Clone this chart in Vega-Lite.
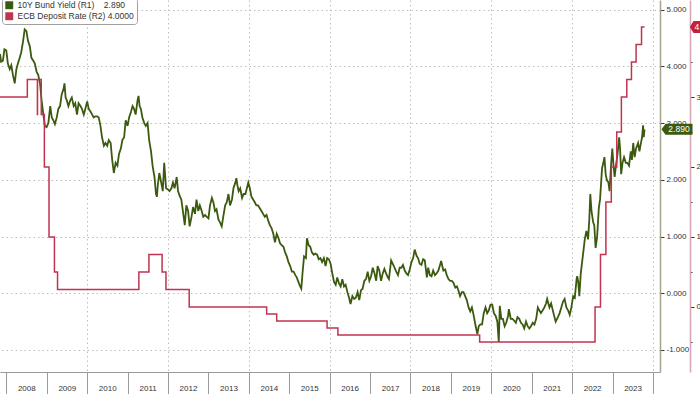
{
  "$schema": "https://vega.github.io/schema/vega-lite/v6.json",
  "width": 660,
  "height": 372,
  "autosize": {"type": "none"},
  "padding": {"left": 0, "top": 0, "right": 40, "bottom": 22},
  "background": "white",
  "config": {
    "view": {"stroke": null},
    "font": "Liberation Sans",
    "axis": {"labelFont": "Liberation Sans", "labelFontSize": 8, "labelColor": "#333333", "title": null}
  },
  "datasets": {
    "bund": [
      {"d":"2007-11-05","y":4.22},{"d":"2007-11-15","y":4.08},{"d":"2007-12-01","y":4.10},{"d":"2007-12-15","y":4.30},
      {"d":"2008-01-01","y":4.28},{"d":"2008-01-15","y":4.05},{"d":"2008-02-01","y":3.95},{"d":"2008-02-15","y":4.02},
      {"d":"2008-03-01","y":3.85},{"d":"2008-03-17","y":3.70},{"d":"2008-04-01","y":3.95},{"d":"2008-04-15","y":4.05},
      {"d":"2008-05-01","y":4.15},{"d":"2008-05-15","y":4.25},{"d":"2008-06-01","y":4.45},{"d":"2008-06-15","y":4.65},
      {"d":"2008-07-01","y":4.62},{"d":"2008-07-15","y":4.45},{"d":"2008-08-01","y":4.35},{"d":"2008-08-15","y":4.15},
      {"d":"2008-09-01","y":4.10},{"d":"2008-09-15","y":4.05},{"d":"2008-10-01","y":3.90},{"d":"2008-10-15","y":3.85},
      {"d":"2008-11-01","y":3.70},{"d":"2008-11-15","y":3.40},{"d":"2008-12-01","y":3.15},{"d":"2008-12-15","y":2.95},
      {"d":"2008-12-30","y":2.93},{"d":"2009-01-15","y":3.00},{"d":"2009-02-01","y":3.30},{"d":"2009-02-15","y":3.10},
      {"d":"2009-03-01","y":3.05},{"d":"2009-03-15","y":2.98},{"d":"2009-04-01","y":3.10},{"d":"2009-04-15","y":3.25},
      {"d":"2009-05-01","y":3.30},{"d":"2009-05-15","y":3.50},{"d":"2009-06-01","y":3.60},{"d":"2009-06-10","y":3.70},
      {"d":"2009-06-20","y":3.45},{"d":"2009-07-01","y":3.40},{"d":"2009-07-15","y":3.30},{"d":"2009-08-01","y":3.40},
      {"d":"2009-08-15","y":3.45},{"d":"2009-09-01","y":3.30},{"d":"2009-09-15","y":3.35},{"d":"2009-10-01","y":3.15},
      {"d":"2009-10-15","y":3.35},{"d":"2009-11-01","y":3.30},{"d":"2009-11-15","y":3.25},{"d":"2009-12-01","y":3.15},
      {"d":"2009-12-15","y":3.25},{"d":"2010-01-01","y":3.38},{"d":"2010-01-15","y":3.25},{"d":"2010-02-01","y":3.20},
      {"d":"2010-02-15","y":3.15},{"d":"2010-03-01","y":3.10},{"d":"2010-03-15","y":3.12},{"d":"2010-04-01","y":3.12},
      {"d":"2010-04-15","y":3.10},{"d":"2010-05-01","y":2.95},{"d":"2010-05-15","y":2.75},{"d":"2010-06-01","y":2.60},
      {"d":"2010-06-15","y":2.65},{"d":"2010-07-01","y":2.60},{"d":"2010-07-15","y":2.70},{"d":"2010-08-01","y":2.65},
      {"d":"2010-08-15","y":2.35},{"d":"2010-08-30","y":2.12},{"d":"2010-09-15","y":2.30},{"d":"2010-10-01","y":2.25},
      {"d":"2010-10-15","y":2.45},{"d":"2010-11-01","y":2.55},{"d":"2010-11-15","y":2.70},{"d":"2010-12-01","y":2.75},
      {"d":"2010-12-15","y":3.05},{"d":"2011-01-01","y":2.95},{"d":"2011-01-15","y":3.10},{"d":"2011-02-01","y":3.20},
      {"d":"2011-02-15","y":3.30},{"d":"2011-03-01","y":3.25},{"d":"2011-03-15","y":3.15},{"d":"2011-04-01","y":3.40},
      {"d":"2011-04-10","y":3.48},{"d":"2011-04-20","y":3.30},{"d":"2011-05-01","y":3.25},{"d":"2011-05-15","y":3.10},
      {"d":"2011-06-01","y":3.00},{"d":"2011-06-15","y":2.95},{"d":"2011-07-01","y":3.00},{"d":"2011-07-15","y":2.70},
      {"d":"2011-08-01","y":2.50},{"d":"2011-08-15","y":2.25},{"d":"2011-09-01","y":2.05},{"d":"2011-09-15","y":1.75},
      {"d":"2011-09-23","y":1.70},{"d":"2011-10-01","y":1.90},{"d":"2011-10-15","y":2.12},{"d":"2011-11-01","y":1.95},
      {"d":"2011-11-15","y":1.80},{"d":"2011-11-28","y":2.30},{"d":"2011-12-15","y":1.85},{"d":"2012-01-01","y":1.83},
      {"d":"2012-01-15","y":1.80},{"d":"2012-02-01","y":1.85},{"d":"2012-02-15","y":1.95},{"d":"2012-03-01","y":1.85},
      {"d":"2012-03-20","y":2.05},{"d":"2012-04-01","y":1.80},{"d":"2012-04-15","y":1.72},{"d":"2012-05-01","y":1.65},
      {"d":"2012-05-15","y":1.45},{"d":"2012-06-01","y":1.20},{"d":"2012-06-15","y":1.55},{"d":"2012-07-01","y":1.45},
      {"d":"2012-07-15","y":1.18},{"d":"2012-08-01","y":1.35},{"d":"2012-08-15","y":1.52},{"d":"2012-09-01","y":1.40},
      {"d":"2012-09-15","y":1.65},{"d":"2012-10-01","y":1.45},{"d":"2012-10-15","y":1.55},{"d":"2012-11-01","y":1.45},
      {"d":"2012-11-15","y":1.35},{"d":"2012-12-01","y":1.38},{"d":"2012-12-15","y":1.35},{"d":"2013-01-01","y":1.32},
      {"d":"2013-01-15","y":1.55},{"d":"2013-02-01","y":1.68},{"d":"2013-02-15","y":1.60},{"d":"2013-03-01","y":1.45},
      {"d":"2013-03-15","y":1.48},{"d":"2013-04-01","y":1.30},{"d":"2013-04-15","y":1.25},{"d":"2013-05-01","y":1.18},
      {"d":"2013-05-15","y":1.35},{"d":"2013-06-01","y":1.55},{"d":"2013-06-15","y":1.60},{"d":"2013-07-01","y":1.75},
      {"d":"2013-07-15","y":1.55},{"d":"2013-08-01","y":1.65},{"d":"2013-08-15","y":1.85},{"d":"2013-09-01","y":1.95},
      {"d":"2013-09-10","y":2.03},{"d":"2013-09-20","y":1.90},{"d":"2013-10-01","y":1.80},{"d":"2013-10-15","y":1.85},
      {"d":"2013-11-01","y":1.68},{"d":"2013-11-15","y":1.75},{"d":"2013-12-01","y":1.75},{"d":"2013-12-27","y":1.95},
      {"d":"2014-01-10","y":1.85},{"d":"2014-01-25","y":1.70},{"d":"2014-02-10","y":1.65},{"d":"2014-02-25","y":1.60},
      {"d":"2014-03-10","y":1.55},{"d":"2014-03-25","y":1.55},{"d":"2014-04-10","y":1.50},{"d":"2014-04-25","y":1.45},
      {"d":"2014-05-10","y":1.40},{"d":"2014-05-25","y":1.35},{"d":"2014-06-10","y":1.38},{"d":"2014-06-25","y":1.28},
      {"d":"2014-07-10","y":1.20},{"d":"2014-07-25","y":1.15},{"d":"2014-08-10","y":1.05},{"d":"2014-08-25","y":0.90},
      {"d":"2014-09-10","y":1.05},{"d":"2014-09-25","y":0.98},{"d":"2014-10-10","y":0.88},{"d":"2014-10-25","y":0.85},
      {"d":"2014-11-10","y":0.82},{"d":"2014-11-25","y":0.72},{"d":"2014-12-10","y":0.65},{"d":"2014-12-25","y":0.55},
      {"d":"2015-01-10","y":0.48},{"d":"2015-01-25","y":0.38},{"d":"2015-02-10","y":0.38},{"d":"2015-02-25","y":0.32},
      {"d":"2015-03-10","y":0.28},{"d":"2015-03-25","y":0.20},{"d":"2015-04-10","y":0.12},{"d":"2015-04-20","y":0.08},
      {"d":"2015-05-01","y":0.35},{"d":"2015-05-15","y":0.65},{"d":"2015-06-01","y":0.62},{"d":"2015-06-10","y":0.97},
      {"d":"2015-06-25","y":0.85},{"d":"2015-07-10","y":0.82},{"d":"2015-07-25","y":0.72},{"d":"2015-08-10","y":0.68},
      {"d":"2015-08-25","y":0.70},{"d":"2015-09-10","y":0.68},{"d":"2015-09-25","y":0.60},{"d":"2015-10-10","y":0.62},
      {"d":"2015-10-25","y":0.55},{"d":"2015-11-10","y":0.62},{"d":"2015-11-25","y":0.48},{"d":"2015-12-10","y":0.62},
      {"d":"2015-12-25","y":0.60},{"d":"2016-01-10","y":0.52},{"d":"2016-01-25","y":0.35},{"d":"2016-02-10","y":0.20},
      {"d":"2016-02-25","y":0.15},{"d":"2016-03-10","y":0.28},{"d":"2016-03-25","y":0.18},{"d":"2016-04-10","y":0.12},
      {"d":"2016-04-25","y":0.25},{"d":"2016-05-10","y":0.12},{"d":"2016-05-25","y":0.15},{"d":"2016-06-10","y":0.02},
      {"d":"2016-06-25","y":-0.08},{"d":"2016-07-08","y":-0.19},{"d":"2016-07-25","y":-0.05},{"d":"2016-08-10","y":-0.10},
      {"d":"2016-08-25","y":-0.08},{"d":"2016-09-10","y":0.02},{"d":"2016-09-25","y":-0.12},{"d":"2016-10-10","y":0.05},
      {"d":"2016-10-25","y":0.08},{"d":"2016-11-10","y":0.22},{"d":"2016-11-25","y":0.25},{"d":"2016-12-10","y":0.38},
      {"d":"2016-12-25","y":0.22},{"d":"2017-01-10","y":0.30},{"d":"2017-01-25","y":0.45},{"d":"2017-02-10","y":0.35},
      {"d":"2017-02-25","y":0.22},{"d":"2017-03-10","y":0.48},{"d":"2017-03-25","y":0.40},{"d":"2017-04-10","y":0.22},
      {"d":"2017-04-25","y":0.35},{"d":"2017-05-10","y":0.43},{"d":"2017-05-25","y":0.35},{"d":"2017-06-10","y":0.28},
      {"d":"2017-06-20","y":0.25},{"d":"2017-07-10","y":0.58},{"d":"2017-07-25","y":0.52},{"d":"2017-08-10","y":0.45},
      {"d":"2017-08-25","y":0.38},{"d":"2017-09-10","y":0.32},{"d":"2017-09-25","y":0.45},{"d":"2017-10-10","y":0.45},
      {"d":"2017-10-25","y":0.50},{"d":"2017-11-10","y":0.40},{"d":"2017-11-25","y":0.35},{"d":"2017-12-10","y":0.32},
      {"d":"2017-12-25","y":0.42},{"d":"2018-01-10","y":0.55},{"d":"2018-01-25","y":0.62},{"d":"2018-02-08","y":0.77},
      {"d":"2018-02-25","y":0.66},{"d":"2018-03-10","y":0.62},{"d":"2018-03-25","y":0.52},{"d":"2018-04-10","y":0.50},
      {"d":"2018-04-25","y":0.60},{"d":"2018-05-10","y":0.58},{"d":"2018-05-29","y":0.28},{"d":"2018-06-10","y":0.45},
      {"d":"2018-06-25","y":0.32},{"d":"2018-07-10","y":0.30},{"d":"2018-07-25","y":0.40},{"d":"2018-08-10","y":0.32},
      {"d":"2018-08-25","y":0.35},{"d":"2018-09-10","y":0.40},{"d":"2018-09-25","y":0.50},{"d":"2018-10-05","y":0.57},
      {"d":"2018-10-25","y":0.40},{"d":"2018-11-10","y":0.42},{"d":"2018-11-25","y":0.32},{"d":"2018-12-10","y":0.25},
      {"d":"2018-12-25","y":0.22},{"d":"2019-01-10","y":0.22},{"d":"2019-01-25","y":0.18},{"d":"2019-02-10","y":0.10},
      {"d":"2019-02-25","y":0.12},{"d":"2019-03-10","y":0.05},{"d":"2019-03-25","y":-0.05},{"d":"2019-04-10","y":0.02},
      {"d":"2019-04-25","y":0.02},{"d":"2019-05-10","y":-0.05},{"d":"2019-05-25","y":-0.12},{"d":"2019-06-10","y":-0.25},
      {"d":"2019-06-25","y":-0.32},{"d":"2019-07-10","y":-0.25},{"d":"2019-07-25","y":-0.38},{"d":"2019-08-10","y":-0.55},
      {"d":"2019-08-28","y":-0.72},{"d":"2019-09-10","y":-0.58},{"d":"2019-09-25","y":-0.55},{"d":"2019-10-10","y":-0.55},
      {"d":"2019-10-25","y":-0.35},{"d":"2019-11-10","y":-0.25},{"d":"2019-11-25","y":-0.35},{"d":"2019-12-10","y":-0.30},
      {"d":"2019-12-25","y":-0.20},{"d":"2020-01-10","y":-0.20},{"d":"2020-01-25","y":-0.35},{"d":"2020-02-10","y":-0.40},
      {"d":"2020-02-25","y":-0.50},{"d":"2020-03-09","y":-0.86},{"d":"2020-03-18","y":-0.22},{"d":"2020-04-01","y":-0.45},
      {"d":"2020-04-15","y":-0.45},{"d":"2020-05-01","y":-0.58},{"d":"2020-05-15","y":-0.52},{"d":"2020-06-01","y":-0.40},
      {"d":"2020-06-08","y":-0.28},{"d":"2020-06-25","y":-0.45},{"d":"2020-07-10","y":-0.45},{"d":"2020-07-25","y":-0.48},
      {"d":"2020-08-10","y":-0.52},{"d":"2020-08-25","y":-0.42},{"d":"2020-09-10","y":-0.45},{"d":"2020-09-25","y":-0.52},
      {"d":"2020-10-10","y":-0.55},{"d":"2020-10-25","y":-0.62},{"d":"2020-11-10","y":-0.50},{"d":"2020-11-25","y":-0.58},
      {"d":"2020-12-10","y":-0.62},{"d":"2020-12-25","y":-0.58},{"d":"2021-01-10","y":-0.52},{"d":"2021-01-25","y":-0.55},
      {"d":"2021-02-10","y":-0.45},{"d":"2021-02-25","y":-0.25},{"d":"2021-03-10","y":-0.30},{"d":"2021-03-25","y":-0.35},
      {"d":"2021-04-10","y":-0.30},{"d":"2021-04-25","y":-0.25},{"d":"2021-05-10","y":-0.18},{"d":"2021-05-20","y":-0.10},
      {"d":"2021-06-10","y":-0.25},{"d":"2021-06-25","y":-0.18},{"d":"2021-07-10","y":-0.30},{"d":"2021-07-25","y":-0.42},
      {"d":"2021-08-05","y":-0.50},{"d":"2021-08-25","y":-0.42},{"d":"2021-09-10","y":-0.35},{"d":"2021-09-25","y":-0.25},
      {"d":"2021-10-10","y":-0.15},{"d":"2021-10-25","y":-0.10},{"d":"2021-11-10","y":-0.25},{"d":"2021-11-25","y":-0.30},
      {"d":"2021-12-10","y":-0.38},{"d":"2021-12-25","y":-0.25},{"d":"2022-01-10","y":-0.05},{"d":"2022-01-25","y":-0.08},
      {"d":"2022-02-10","y":0.25},{"d":"2022-02-16","y":0.30},{"d":"2022-02-25","y":0.20},{"d":"2022-03-07","y":-0.05},
      {"d":"2022-03-20","y":0.35},{"d":"2022-04-01","y":0.55},{"d":"2022-04-15","y":0.78},{"d":"2022-04-25","y":0.95},
      {"d":"2022-05-10","y":1.10},{"d":"2022-05-25","y":0.95},{"d":"2022-06-05","y":1.30},{"d":"2022-06-14","y":1.75},
      {"d":"2022-06-25","y":1.45},{"d":"2022-07-10","y":1.25},{"d":"2022-07-20","y":1.20},{"d":"2022-08-01","y":0.80},
      {"d":"2022-08-15","y":1.00},{"d":"2022-08-30","y":1.50},{"d":"2022-09-10","y":1.65},{"d":"2022-09-20","y":1.95},
      {"d":"2022-09-28","y":2.20},{"d":"2022-10-10","y":2.30},{"d":"2022-10-20","y":2.40},{"d":"2022-10-31","y":2.10},
      {"d":"2022-11-10","y":2.00},{"d":"2022-11-25","y":1.95},{"d":"2022-12-05","y":1.80},{"d":"2022-12-20","y":2.30},
      {"d":"2022-12-30","y":2.55},{"d":"2023-01-10","y":2.25},{"d":"2023-01-20","y":2.05},{"d":"2023-02-01","y":2.25},
      {"d":"2023-02-15","y":2.45},{"d":"2023-03-02","y":2.75},{"d":"2023-03-10","y":2.55},{"d":"2023-03-20","y":2.10},
      {"d":"2023-04-01","y":2.30},{"d":"2023-04-15","y":2.40},{"d":"2023-05-01","y":2.30},{"d":"2023-05-15","y":2.30},
      {"d":"2023-05-30","y":2.25},{"d":"2023-06-15","y":2.50},{"d":"2023-06-25","y":2.35},{"d":"2023-07-07","y":2.65},
      {"d":"2023-07-20","y":2.40},{"d":"2023-08-01","y":2.55},{"d":"2023-08-20","y":2.65},{"d":"2023-09-01","y":2.50},
      {"d":"2023-09-15","y":2.65},{"d":"2023-09-25","y":2.75},{"d":"2023-10-04","y":2.96},{"d":"2023-10-10","y":2.75},
      {"d":"2023-10-17","y":2.89}
    ],
    "ecb": [
      {"d":"2007-11-05","r":3.00},{"d":"2008-07-09","r":3.25},{"d":"2008-10-08","r":2.75},{"d":"2008-10-09","r":3.25},
      {"d":"2008-11-12","r":2.75},{"d":"2008-12-10","r":2.00},{"d":"2009-01-21","r":1.00},{"d":"2009-03-11","r":0.50},
      {"d":"2009-04-08","r":0.25},{"d":"2011-04-13","r":0.50},{"d":"2011-07-13","r":0.75},{"d":"2011-11-09","r":0.50},
      {"d":"2011-12-14","r":0.25},{"d":"2012-07-11","r":0.00},{"d":"2014-06-11","r":-0.10},{"d":"2014-09-10","r":-0.20},
      {"d":"2015-12-09","r":-0.30},{"d":"2016-03-16","r":-0.40},{"d":"2019-09-18","r":-0.50},{"d":"2022-07-27","r":0.00},
      {"d":"2022-09-14","r":0.75},{"d":"2022-11-02","r":1.50},{"d":"2022-12-21","r":2.00},{"d":"2023-02-08","r":2.50},
      {"d":"2023-03-22","r":3.00},{"d":"2023-05-10","r":3.25},{"d":"2023-06-21","r":3.50},{"d":"2023-08-02","r":3.75},
      {"d":"2023-09-20","r":4.00},{"d":"2023-10-17","r":4.00}
    ]
  },
  "layer": [
    {
      "layer": [
        {
          "data": {"name": "bund"},
          "mark": {"type": "line", "strokeWidth": 1.8, "strokeJoin": "miter"},
          "encoding": {
            "x": {
              "field": "d", "type": "temporal", "title": null,
              "scale": {"type": "utc", "domain": [{"year": 2007, "month": 11, "date": 5, "utc": true}, {"year": 2024, "month": 3, "date": 5, "utc": true}]},
              "axis": {
                "tickCount": {"interval": "year", "step": 1},
                "labelExpr": "utcyear(datum.value) >= 2024 ? '' : utcFormat(datum.value, '%Y')",
                "labelOffset": 20,
                "labelPadding": -6,
                "labelBaseline": "middle",
                "labelOverlap": false,
                "labelFlush": false,
                "labelBound": false,
                "tickSize": 22,
                "tickColor": "#9a9a9a",
                "domainColor": "#9a9a9a",
                "grid": true,
                "gridColor": "#bdbdbd",
                "gridDash": [1.5, 3],
                "gridOpacity": {"condition": {"test": "utcyear(datum.value) % 2 === 0 && utcyear(datum.value) >= 2010", "value": 1}, "value": 0}
              }
            },
            "y": {
              "field": "y", "type": "quantitative", "title": null,
              "scale": {"domain": [-1.388, 5.17], "nice": false, "zero": false},
              "axis": {
                "orient": "right",
                "values": [-1, -0.5, 0, 0.5, 1, 1.5, 2, 2.5, 3, 3.5, 4, 4.5, 5],
                "labelExpr": "datum.value % 1 === 0 ? replace(format(datum.value, '.3f'), '\u2212', '-') : ''",
                "labelBaseline": "middle",
                "labelPadding": 2,
                "tickSize": {"condition": {"test": "datum.value % 1 === 0", "value": 4}, "value": 2},
                "tickColor": "#333333",
                "domainColor": "#a4a48c",
                "domainWidth": 1.5,
                "grid": true,
                "gridColor": "#bdbdbd",
                "gridDash": [1.5, 3],
                "gridOpacity": {"condition": {"test": "datum.value % 1 === 0", "value": 1}, "value": 0}
              }
            },
            "color": {
              "datum": "10Y Bund Yield (R1)\u00a0\u00a0\u00a0\u00a02.890",
              "type": "nominal",
              "scale": {
                "domain": ["10Y Bund Yield (R1)\u00a0\u00a0\u00a0\u00a02.890", "ECB Deposit Rate (R2)\u00a04.0000"],
                "range": ["#3b5a10", "#c0344f"]
              },
              "legend": {
                "title": null,
                "orient": "none",
                "legendX": 2,
                "legendY": -2,
                "direction": "vertical",
                "symbolType": "square",
                "symbolSize": 55,
                "labelFont": "Liberation Sans",
                "labelFontSize": 8.5,
                "labelColor": "#333333",
                "labelOffset": 4,
                "fillColor": "white",
                "strokeColor": "#a0a0a0",
                "cornerRadius": 3,
                "padding": 3,
                "rowPadding": 1,
                "encode": {"symbols": {"update": {"fill": {"scale": "color", "field": "value"}, "fillOpacity": {"value": 1}, "stroke": {"value": "#222222"}, "strokeWidth": {"value": 0.5}}}}
              }
            }
          }
        },
        {
          "data": {"name": "bund"},
          "transform": [
            {"window": [{"op": "row_number", "as": "rn"}], "sort": [{"field": "d", "order": "descending"}]},
            {"filter": "datum.rn === 1"}
          ],
          "mark": {"type": "point", "shape": "M 1.7 0 L 2.1 -0.55 L 4.8 -0.55 L 4.8 0.55 L 2.1 0.55 Z", "size": 400, "filled": true, "fill": "#3b5a10", "opacity": 1, "strokeWidth": 0},
          "encoding": {
            "x": {"field": "d", "type": "temporal", "title": null},
            "y": {"field": "y", "type": "quantitative", "title": null}
          }
        },
        {
          "data": {"name": "bund"},
          "transform": [
            {"window": [{"op": "row_number", "as": "rn"}], "sort": [{"field": "d", "order": "descending"}]},
            {"filter": "datum.rn === 1"}
          ],
          "mark": {"type": "text", "dx": 34.5, "align": "center", "baseline": "middle", "fontSize": 8.5, "fill": "white", "font": "Liberation Sans"},
          "encoding": {
            "x": {"field": "d", "type": "temporal", "title": null},
            "y": {"field": "y", "type": "quantitative", "title": null},
            "text": {"field": "y", "type": "quantitative", "format": ".3f"}
          }
        }
      ]
    },
    {
      "layer": [
        {
          "data": {"name": "ecb"},
          "mark": {"type": "line", "strokeWidth": 1.5, "interpolate": "step-after"},
          "encoding": {
            "x": {"field": "d", "type": "temporal", "title": null},
            "y": {
              "field": "r", "type": "quantitative", "title": null,
              "scale": {"domain": [-0.929, 4.386], "nice": false, "zero": false},
              "axis": {
                "orient": "right",
                "offset": 30,
                "values": [-0.5, 0, 0.5, 1, 1.5, 2, 2.5, 3, 3.5, 4],
                "labelExpr": "datum.value % 1 === 0 ? format(datum.value, 'd') : ''",
                "labelBaseline": "middle",
                "labelPadding": 2,
                "tickSize": {"condition": {"test": "datum.value % 1 === 0", "value": 4}, "value": 2},
                "tickColor": "#333333",
                "domainColor": "#d8a4b4",
                "domainWidth": 1.5,
                "grid": false
              }
            },
            "color": {"datum": "ECB Deposit Rate (R2)\u00a04.0000", "type": "nominal"}
          }
        },
        {
          "data": {"name": "ecb"},
          "transform": [
            {"window": [{"op": "row_number", "as": "rn"}], "sort": [{"field": "d", "order": "descending"}]},
            {"filter": "datum.rn === 1"}
          ],
          "mark": {"type": "point", "shape": "M 4.53 0 L 4.9 -0.6 L 9 -0.6 L 9 0.6 L 4.9 0.6 Z", "size": 400, "filled": true, "fill": "#c4203c", "opacity": 1, "strokeWidth": 0},
          "encoding": {
            "x": {"field": "d", "type": "temporal", "title": null},
            "y": {"field": "r", "type": "quantitative", "title": null}
          }
        },
        {
          "data": {"name": "ecb"},
          "transform": [
            {"window": [{"op": "row_number", "as": "rn"}], "sort": [{"field": "d", "order": "descending"}]},
            {"filter": "datum.rn === 1"}
          ],
          "mark": {"type": "text", "dx": 50, "align": "left", "baseline": "middle", "fontSize": 8.5, "fill": "white", "font": "Liberation Sans"},
          "encoding": {
            "x": {"field": "d", "type": "temporal", "title": null},
            "y": {"field": "r", "type": "quantitative", "title": null},
            "text": {"field": "r", "type": "quantitative", "format": ".4f"}
          }
        }
      ]
    }
  ],
  "resolve": {"scale": {"y": "independent"}}
}
